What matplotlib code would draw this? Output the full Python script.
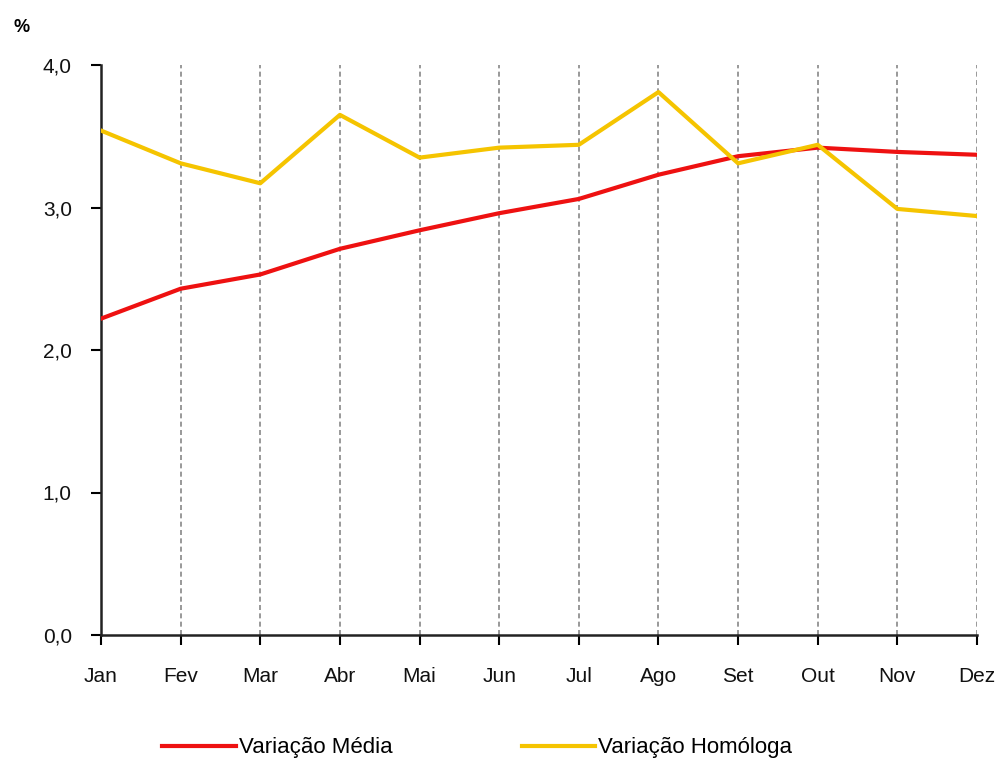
import matplotlib
matplotlib.use("Agg")
import matplotlib.pyplot as plt
from matplotlib.ticker import FuncFormatter

plt.rcParams['font.family'] = ['Liberation Sans', 'DejaVu Sans']

# data
months = ["Jan", "Fev", "Mar", "Abr", "Mai", "Jun", "Jul", "Ago", "Set", "Out", "Nov", "Dez"]
variacao_media = [2.22, 2.43, 2.53, 2.71, 2.84, 2.96, 3.06, 3.23, 3.36, 3.42, 3.39, 3.37]
variacao_homologa = [3.54, 3.31, 3.17, 3.65, 3.35, 3.42, 3.44, 3.81, 3.31, 3.44, 2.99, 2.94]

fig = plt.figure(figsize=(10.05, 7.65), dpi=100)
ax = fig.add_axes([101 / 1005, 1 - 635 / 765, 876 / 1005, 570 / 765])

x = list(range(len(months)))
ax.plot(x, variacao_media, color="#ee1111", lw=3, label="Variação Média", zorder=3)
ax.plot(x, variacao_homologa, color="#f5c400", lw=3, label="Variação Homóloga", zorder=3)

# dashed vertical grid at each month
for xi in x[1:]:
    ax.axvline(xi, color="#888888", lw=1.2, ls=(0, (3, 2)), zorder=1)

ax.set_xlim(0, len(months) - 1)
ax.set_ylim(0, 4)
ax.set_xticks(x)
ax.set_xticklabels(months)
ax.set_yticks([0, 1, 2, 3, 4])
ax.yaxis.set_major_formatter(FuncFormatter(lambda v, p: f"{v:.1f}".replace(".", ",")))

for s in ["top", "right"]:
    ax.spines[s].set_visible(False)
for s in ["left", "bottom"]:
    ax.spines[s].set_linewidth(1.8)
    ax.spines[s].set_color("#222222")

ax.tick_params(axis="x", direction="out", length=7, width=1.5, pad=16, labelsize=15, labelcolor="#111111")
ax.tick_params(axis="y", direction="out", length=7, width=1.5, pad=14, labelsize=15, labelcolor="#111111")

fig.text(13 / 1005, 1 - 28 / 765, "%", fontsize=13, fontweight="bold", va="center")

fig.legend(loc="center", bbox_to_anchor=(0.475, 1 - 748 / 765), ncol=2, frameon=False,
           fontsize=16, handlelength=3.3, handletextpad=0.15, columnspacing=5.8)

fig.savefig("out.png", dpi=100)
